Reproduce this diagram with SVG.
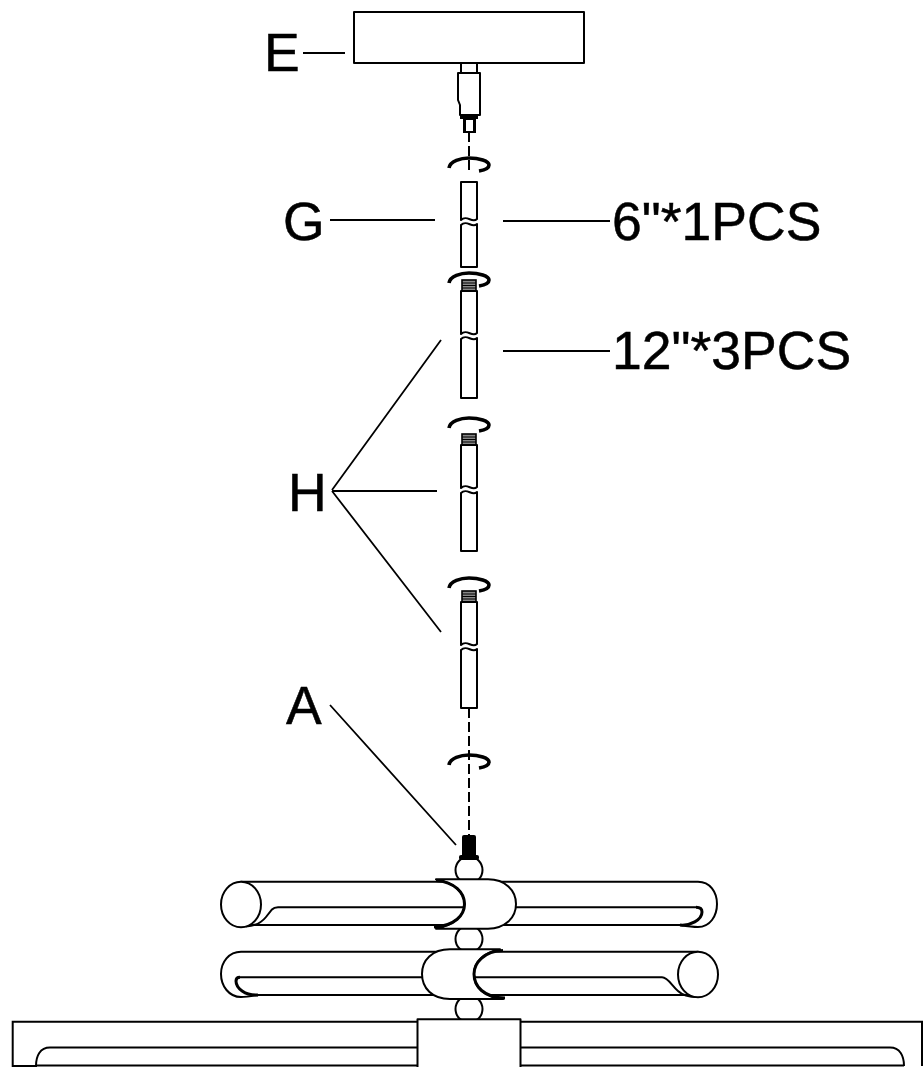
<svg xmlns="http://www.w3.org/2000/svg" width="923" height="1067" viewBox="0 0 923 1067">
<defs>
<style>
.s{fill:#fff;stroke:#000;stroke-width:2;stroke-linejoin:round}
.n{fill:none;stroke:#000;stroke-width:2}
.k{fill:none;stroke:#000;stroke-width:3}
.l{fill:none;stroke:#000;stroke-width:1.8}
.d{fill:none;stroke:#000;stroke-width:2;stroke-dasharray:10 4}
.r{fill:none;stroke:#000;stroke-width:3.600;stroke-linecap:butt}
.t{font-family:"Liberation Sans",Arial,sans-serif;font-size:53.500px;fill:#000;stroke:#000;stroke-width:.5}
.th{fill:#888;stroke:#000;stroke-width:1.600}
</style>
<path id="rot" class="r" d="M-20 10C-19 3-8 0 0 0C10 0 20 3 20 7C20 10 16 12 10 13"/>
<g id="thread"><rect class="th" x="-7" y="0" width="14" height="11"/><path d="M-7 3H7M-7 5.500H7M-7 8H7" stroke="#000" stroke-width="1"/></g>
</defs>
<rect width="923" height="1067" fill="#fff"/>
<g id="connectors">
<path class="l" d="M303 53H345M330 220H435M503 221H610M503 351H610M441 340L332 490M332 491H437M332 491L441 632M330 705L456 845"/>
<path class="d" d="M469 132V171"/>
<path class="d" d="M469 708V835"/>
</g>
<g id="node-E">
<rect class="s" x="354" y="12" width="230" height="51"/>
<rect class="s" x="461" y="63" width="16" height="10"/>
<path class="s" d="M458 73H480V115H460V105L458 100Z"/>
<rect x="463" y="116" width="13" height="17" fill="#000"/>
<rect x="466" y="120" width="7" height="11" fill="#fff"/>
<rect x="460" y="116" width="18" height="3" fill="#000"/>
</g>
<g id="node-G">
<use href="#rot" x="469" y="158"/>
<path class="s" d="M461 182H477V219C472 224 467 214 461 220Z"/>
<path class="s" d="M461 225C467 219 472 229 477 224V267H461Z"/>
</g>
<g id="node-H1">
<use href="#rot" x="469" y="273"/>
<use href="#thread" x="469" y="280"/>
<path class="s" d="M461 291H477V333C472 338 467 328 461 334Z"/>
<path class="s" d="M461 339C467 333 472 343 477 338V398H461Z"/>
</g>
<g id="node-H2">
<use href="#rot" x="469" y="418"/>
<use href="#thread" x="469" y="434"/>
<path class="s" d="M461 445H477V487C472 492 467 482 461 488Z"/>
<path class="s" d="M461 493C467 487 472 497 477 492V551H461Z"/>
</g>
<g id="node-H3">
<use href="#rot" x="469" y="578"/>
<use href="#thread" x="469" y="591"/>
<path class="s" d="M461 602H477V644C472 649 467 639 461 645Z"/>
<path class="s" d="M461 650C467 644 472 654 477 649V708H461Z"/>
</g>
<g id="node-rot-low">
<use href="#rot" x="469" y="755"/>
</g>
<g id="node-A">
<ellipse class="s" cx="469" cy="870" rx="13.500" ry="13.500"/>
<ellipse class="s" cx="469" cy="939" rx="13.500" ry="13.500"/>
<ellipse class="s" cx="469" cy="1009" rx="13.500" ry="13.500"/>
<rect x="462" y="835" width="14" height="22" rx="2" fill="#000"/>
<rect x="459" y="855" width="20" height="5" rx="2" fill="#000"/>
</g>
<g id="node-arm-upper">
<path class="s" d="M241 881.700H698C710 881.700 717 892 717 904C717 916 710 927 698 927C692 927 686 926 680 925H241Z"/>
<path class="n" d="M246 926.500C256 926 262 922 266 917L272 909.500Q274 907.300 278 907.300H696"/>
<ellipse class="s" cx="241" cy="904.500" rx="20" ry="22.700"/>
<path class="k" d="M680 925C690 926 702 920 702 912C702 909 700 907.300 696 907.300"/>
<path class="s" d="M436 879.300H488C505 879.300 516 890 516 904C516 918 505 928.700 488 928.700H436C455 925 464.500 915 464.500 904C464.500 893 455 883 436 879.300Z"/>
<path class="k" d="M436 880.500C455 882 464.500 893 464.500 904C464.500 915 455 926 434 927"/>
</g>
<g id="node-arm-lower">
<path class="s" d="M698 951.700H241C229 951.700 221 962 221 974C221 986 229 997 241 997C247 997 252 996 258 995H698Z"/>
<path class="n" d="M662 977.300H240M662 977.300C668 977.300 672 986 678 991C682 995 688 997 698 997"/>
<path class="k" d="M258 995C245 996 236 988 236 981C236 978 238 977.300 240 977.300"/>
<ellipse class="s" cx="698" cy="974.500" rx="20" ry="22.700"/>
<path class="s" d="M450 949.300H500C482 953 474 963 474 974C474 986 482 996 503 999H450C432 999 422 988 422 974C422 960 432 949.300 450 949.300Z"/>
<path class="k" d="M503 950.500C484 951 474 963 474 974C474 986 484 998 505 998"/>
</g>
<g id="node-base">
<path class="n" d="M923 1021.700H12.700V1066H36C36 1056 40 1047.500 50 1047.500H890C900 1047.500 904 1056 904 1066"/>
<path class="n" d="M36 1065.500H904"/>
<path class="n" d="M922 1021.700V1066"/>
<rect class="s" x="417.500" y="1019.300" width="103" height="50"/>
</g>
<g id="labels">
<text class="t" x="264" y="71">E</text>
<text class="t" x="283" y="240">G</text>
<text class="t" x="612" y="240">6"*1PCS</text>
<text class="t" x="612" y="369">12"*3PCS</text>
<text class="t" x="288" y="511">H</text>
<text class="t" x="286" y="724">A</text>
</g>
</svg>
